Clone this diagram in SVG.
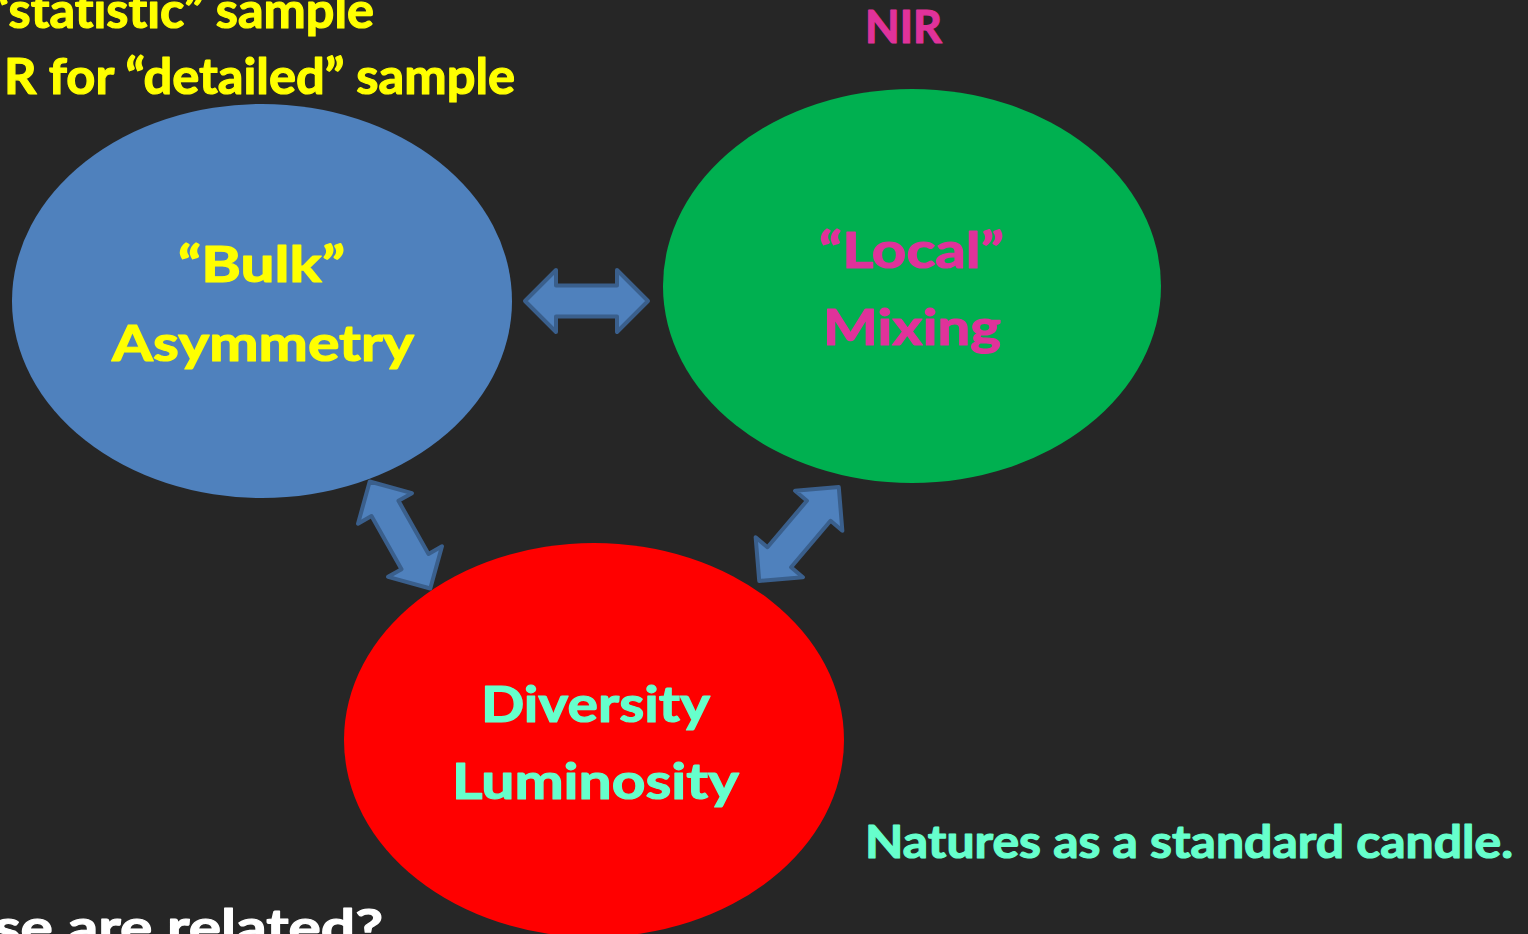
<svg xmlns="http://www.w3.org/2000/svg" xmlns:xlink="http://www.w3.org/1999/xlink" width="1528" height="934" viewBox="0 0 1528 934">
<style>
  text { font-family: Lato, "Open Sans", "Liberation Sans", sans-serif; font-weight: 700; font-variant-ligatures: none; font-feature-settings: "liga" 0, "clig" 0; stroke-width: 1.2; stroke-linejoin: round; }
  .yel { fill: #ffff00; stroke: #ffff00; }
  .mag { fill: #e0329a; stroke: #e0329a; }
  .teal { fill: #66ffcc; stroke: #66ffcc; }
  .wht { fill: #ffffff; stroke: #ffffff; }
  .arrow { fill: #4f81bd; stroke: #3a5f8c; stroke-width: 4; stroke-linejoin: round; }
</style>
<defs>
  <polygon id="dbl" points="-61.5,0 -30.5,-31 -30.5,-15.5 30.5,-15.5 30.5,-31 61.5,0 30.5,31 30.5,15.5 -30.5,15.5 -30.5,31"/>
</defs>
<rect x="0" y="0" width="1528" height="934" fill="#262626"/>

<g id="title-text">
  <text class="yel" x="-10" y="28" font-size="50" textLength="384" lengthAdjust="spacingAndGlyphs">“statistic” sample</text>
  <text class="yel" x="4" y="94" font-size="50" textLength="511" lengthAdjust="spacingAndGlyphs">R for “detailed” sample</text>
  <text class="mag" x="865" y="43" font-size="46" textLength="77" lengthAdjust="spacingAndGlyphs">NIR</text>
</g>

<g id="node-bulk">
  <ellipse cx="262" cy="301" rx="250" ry="197" fill="#4f81bd"/>
  <text class="yel" x="178" y="282" font-size="50" textLength="167" lengthAdjust="spacingAndGlyphs">“Bulk”</text>
  <text class="yel" x="112" y="361" font-size="50" textLength="302" lengthAdjust="spacingAndGlyphs">Asymmetry</text>
</g>

<g id="node-local">
  <ellipse cx="912" cy="286" rx="249" ry="197" fill="#00b050"/>
  <text class="mag" x="819" y="268" font-size="50" textLength="185" lengthAdjust="spacingAndGlyphs">“Local”</text>
  <text class="mag" x="823" y="345" font-size="50" textLength="178" lengthAdjust="spacingAndGlyphs">Mixing</text>
</g>

<g id="node-diversity">
  <ellipse cx="594" cy="740" rx="250" ry="197" fill="#ff0000"/>
  <text class="teal" x="481" y="722" font-size="50" textLength="229" lengthAdjust="spacingAndGlyphs">Diversity</text>
  <text class="teal" x="452" y="799" font-size="50" textLength="287" lengthAdjust="spacingAndGlyphs">Luminosity</text>
</g>

<g id="connectors">
  <use xlink:href="#dbl" class="arrow" transform="translate(586.5,301)"/>
  <use xlink:href="#dbl" class="arrow" transform="translate(400,535) rotate(60.5)"/>
  <use xlink:href="#dbl" class="arrow" transform="translate(799,534) rotate(-49.7)"/>
</g>

<g id="notes">
  <text class="teal" x="865" y="858" font-size="46" textLength="648" lengthAdjust="spacingAndGlyphs">Natures as a standard candle.</text>
  <text class="wht" x="-6" y="945" font-size="50" textLength="389" lengthAdjust="spacingAndGlyphs">se are related?</text>
</g>
</svg>
